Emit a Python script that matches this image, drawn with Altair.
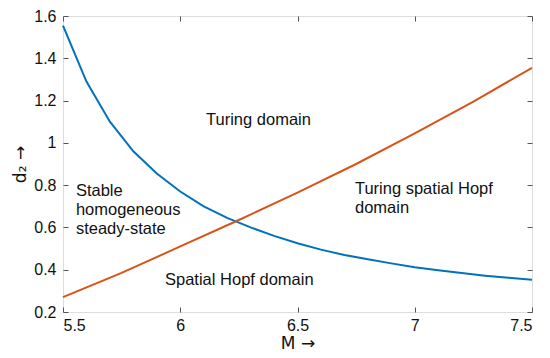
import altair as alt
import pandas as pd

M_blue = [5.5, 5.6, 5.7, 5.8, 5.9, 6.0, 6.1, 6.2, 6.3, 6.4, 6.5, 6.6, 6.7, 6.8, 6.9, 7.0, 7.1, 7.2, 7.3, 7.4, 7.5]
d2_blue = [1.555, 1.29, 1.10, 0.96, 0.855, 0.77, 0.70, 0.645, 0.60, 0.56, 0.525, 0.495, 0.47, 0.45, 0.43, 0.412, 0.397, 0.384, 0.372, 0.362, 0.352]
M_orange = [5.5, 5.75, 6.0, 6.25, 6.5, 6.75, 7.0, 7.25, 7.5]
d2_orange = [0.27, 0.385, 0.51, 0.635, 0.765, 0.90, 1.045, 1.195, 1.355]

label_text = ["Turing domain", "Stable", "homogeneous", "steady-state",
              "Spatial Hopf domain", "Turing spatial Hopf", "domain"]
label_M = [6.11, 5.555, 5.555, 5.555, 5.935, 6.745, 6.745]
label_d2 = [1.108, 0.771, 0.682, 0.593, 0.35, 0.781, 0.692]

x_ticks = [5.5, 6, 6.5, 7, 7.5]
y_ticks = [0.2, 0.4, 0.6, 0.8, 1, 1.2, 1.4, 1.6]

blue = pd.DataFrame({"M": M_blue, "d2": d2_blue})
orange = pd.DataFrame({"M": M_orange, "d2": d2_orange})
labels = pd.DataFrame({"M": label_M, "d2": label_d2, "t": label_text})

FONT = "Liberation Sans"
xs = alt.Scale(domain=[5.5, 7.5], nice=False, zero=False)
ys = alt.Scale(domain=[0.2, 1.6], nice=False, zero=False)

common_axis = dict(domain=False, grid=False, tickColor="#555555", tickSize=5,
                   offset=-5, labelFont=FONT, labelFontSize=16, labelColor="#111111",
                   titleFont="DejaVu Sans", titleFontSize=17, titleFontWeight="normal",
                   titleColor="#111111")

x_bottom = alt.X("M:Q", scale=xs, axis=alt.Axis(orient="bottom", values=x_ticks,
                 title="M →", labelPadding=5, titlePadding=2, format="~g", **common_axis))
y_left = alt.Y("d2:Q", scale=ys, axis=alt.Axis(orient="left", values=y_ticks,
               title="d₂ →", labelPadding=7, titlePadding=4, format="~g", **common_axis))

x_top = alt.X("M:Q", scale=xs, axis=alt.Axis(orient="top", values=x_ticks, labels=False,
              title=None, domain=False, grid=False, tickColor="#555555", tickSize=5, offset=-5))
y_right = alt.Y("d2:Q", scale=ys, axis=alt.Axis(orient="right", values=y_ticks, labels=False,
                title=None, domain=False, grid=False, tickColor="#555555", tickSize=5, offset=-5))

l_blue = alt.Chart(blue).mark_line(color="#0072BD", strokeWidth=2).encode(x=x_bottom, y=y_left)
l_orange = alt.Chart(orange).mark_line(color="#D95319", strokeWidth=2).encode(x=x_top, y=y_right)
txt = alt.Chart(labels).mark_text(align="left", baseline="middle", font=FONT, fontSize=16.5,
                                  color="#111111").encode(
    x=alt.X("M:Q", scale=xs, axis=None), y=alt.Y("d2:Q", scale=ys, axis=None), text="t:N")

chart = alt.layer(l_blue, l_orange, txt).resolve_axis(x="independent", y="independent").properties(
    width=469, height=296,
    autosize=alt.AutoSizeParams(type="none"),
    padding={"left": 55, "top": 8, "right": 10, "bottom": 40},
).configure_view(stroke="#8c8c8c", strokeWidth=1.2).configure(background="white")

chart.save("out.html", embed_options={"renderer": "svg", "actions": False})
